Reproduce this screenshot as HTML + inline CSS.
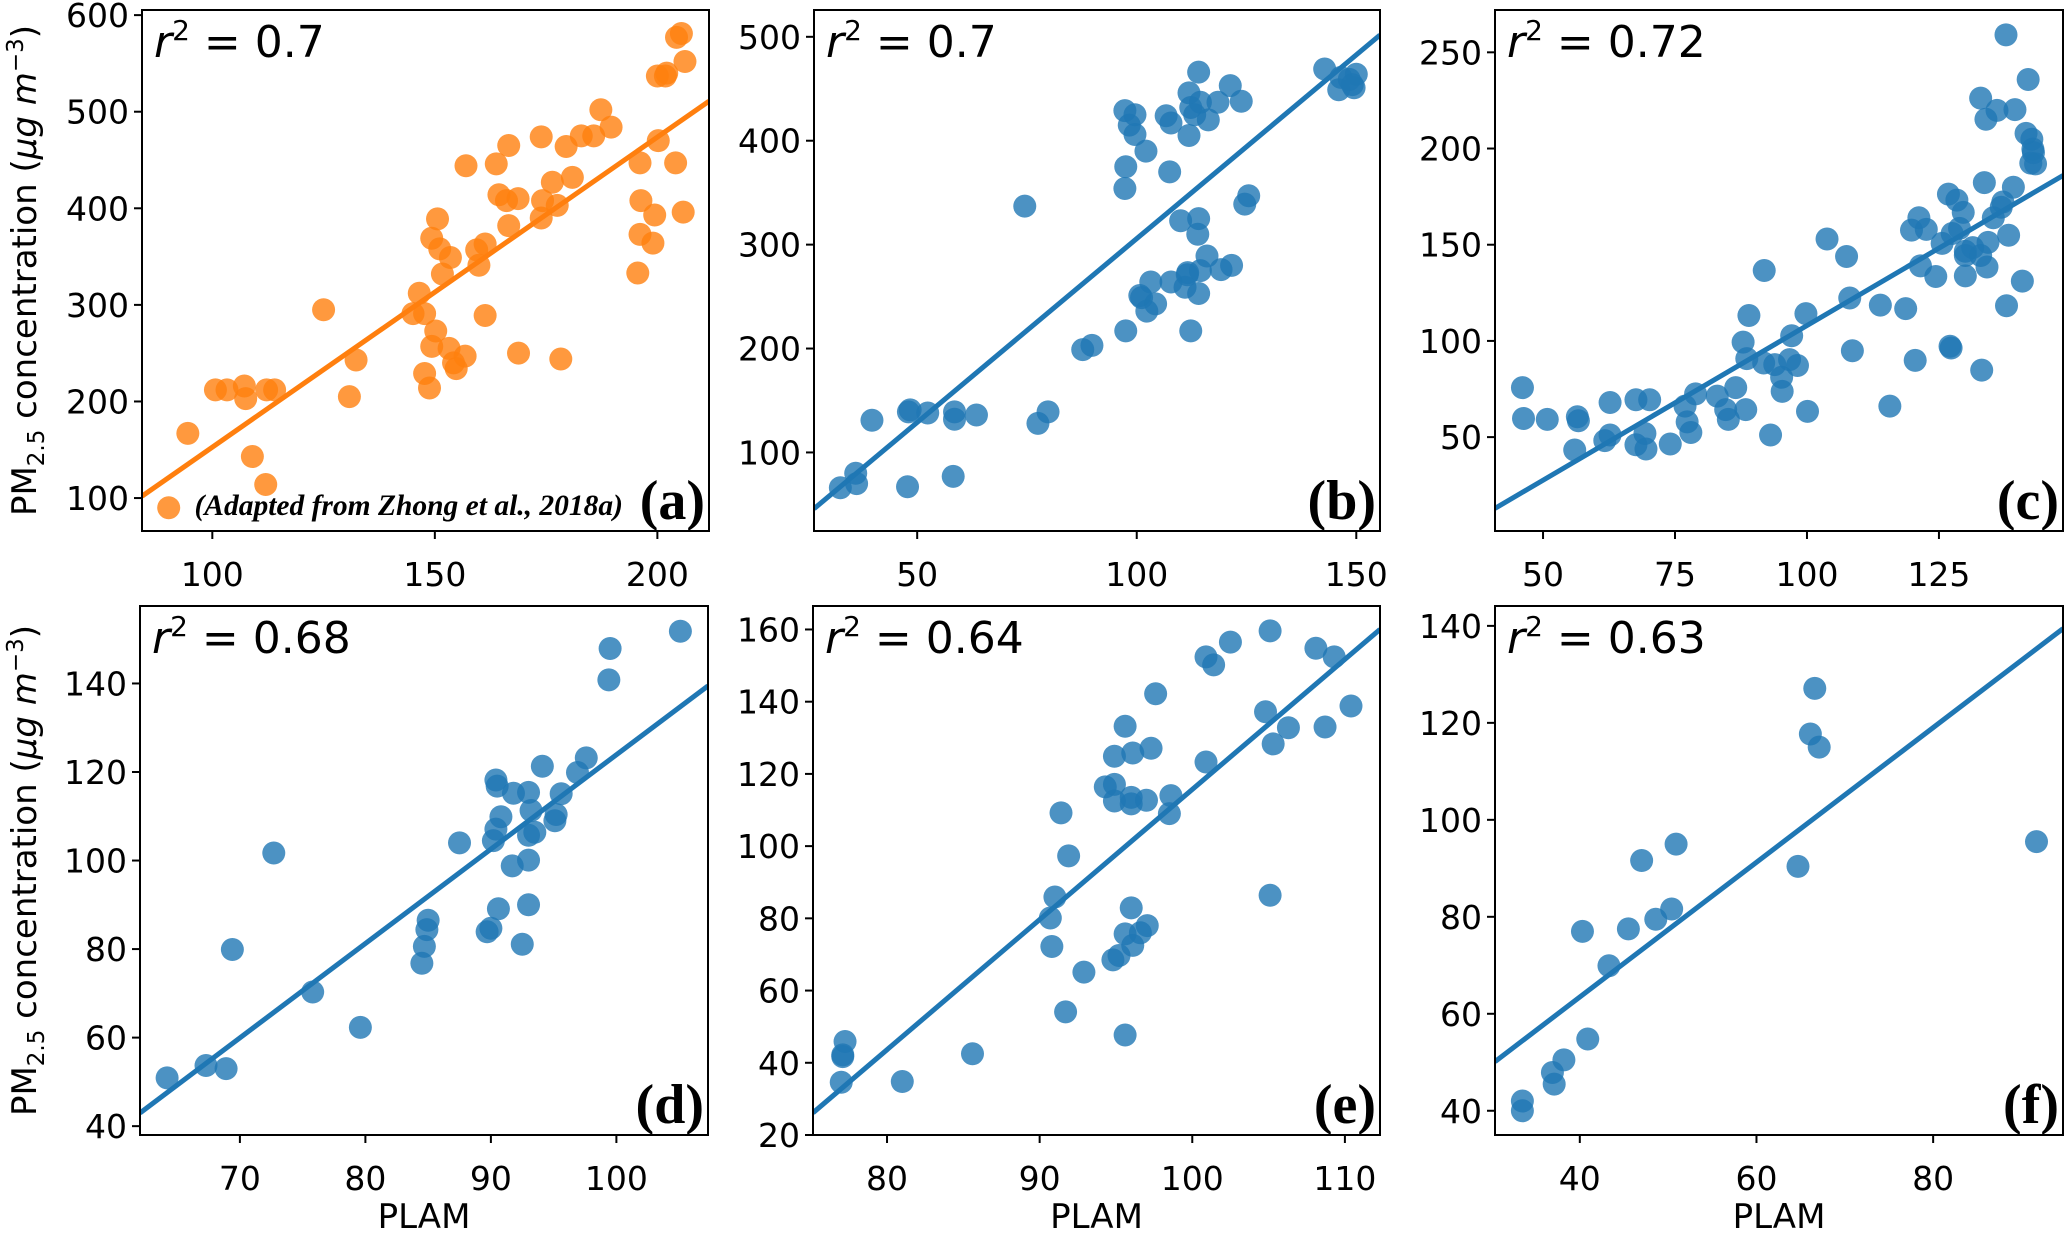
<!DOCTYPE html>
<html><head><meta charset="utf-8"><style>
html,body{margin:0;padding:0;background:#fff;}
svg{display:block;}
</style></head><body>
<svg id="fig" xmlns="http://www.w3.org/2000/svg" width="2067" height="1235" viewBox="0 0 2067 1235" font-family="'DejaVu Sans','Liberation Sans',sans-serif"></svg>
<script>
// ---- Panel (a) data ----
const aX=[90.2,94.5,100.7,103.3,107.2,107.5,109,112,112.2,114,125,130.8,132.3,145.1,146.5,147.7,147.7,148.8,150.2,149.3,149.3,150.6,151.1,151.7,153.5,153.2,154.2,154.8,156.8,157,159.4,159.9,161.3,161.3,163.8,164.4,166.1,166.6,166.6,168.7,168.8,173.9,173.9,174.2,176.4,177.5,178.3,179.5,180.9,182.9,185.7,187.3,189.6,195.6,196.1,196.1,196.3,199,199.4,200,200.2,201.8,202.1,204.1,204.3,205.4,206.2,205.8];
const aY=[90,167,212,212,216,203,143,114,212,212,295,205,243,291,312,291,229,214,273,257,369,389,358,332,349,255,240,234,247,444,357,341,363,289,446,414,408,382,465,410,250,474,390,408,427,403,244,464,432,475,475,502,484,333,447,373,408,364,393,537,470,537,540,447,577,581,552,396];
const aFit=[3.21,-168.3];
const aXTicks=[100,150,200];
const aYTicks=[100,200,300,400,500,600];
// ---- Panel (b) data ----
const bX=[32.5,36,36.2,39.7,47.8,48,48.4,52.4,58.5,58.5,58.2,63.5,74.5,77.5,79.8,87.7,89.8,97.3,97.5,97.3,97.5,98.3,99.6,99.6,100.7,101.1,102.1,102.3,103.2,104.3,106.7,107.5,107.8,107.8,110,111,111.5,111.6,111.9,111.9,112.3,112.3,113.2,114.1,114.1,113.9,114.1,114.5,114.5,116.3,116,118.5,119.2,121.3,121.6,123.8,124.6,125.5,142.8,146,146.5,149.1,150,149.5,148.4];
const bY=[66,80,70,131,67,139,141,138,139,132,77,136,337,128,139,199,203,429,375,354,217,415,425,406,251,249,390,236,264,243,424,370,417,264,323,259,271,273,446,405,217,432,425,466,325,310,253,275,437,420,289,437,276,453,280,438,339,347,469,449,461,454,464,451,459];
const bFit=[3.537,-47.9];
const bXTicks=[50,100,150];
const bYTicks=[100,200,300,400,500];
// ---- Panel (c) data ----
const cX=[46.1,46.3,50.8,56.5,56.7,56,61.7,62.7,62.7,67.6,70.2,67.6,69.3,69.5,74.1,76.9,77.3,78,78.9,83,84.6,85.1,86.5,88.4,87.9,89,88.6,91.8,91.9,93.1,93.9,95.2,95.3,96.7,97.1,98.2,99.8,100.1,103.8,107.5,108.1,108.6,113.9,115.7,118.7,119.8,120.5,121.2,121.5,122.6,124.4,125.6,126.8,127.5,127.1,127.3,128.4,128.9,129.6,130,130,130,131.4,132.9,133.1,133.6,132.9,133.9,134.1,134.3,135.3,136,136.8,137.1,137.7,137.8,138.2,139.1,139.4,140.8,141.5,141.9,142.6,142.8,142.4,143.3,142.9];
const cY=[75.7,59.7,59.2,60.6,58.5,43.3,48.2,68,51.1,69.4,69.4,46,51.9,43.8,46.4,66.1,57.9,52.4,72.5,71.3,64.3,59.2,75.7,64.3,99.4,113.2,90.8,88.5,136.6,51.1,87.7,81.1,73.8,90.3,102.7,87.2,114.2,63.4,153,143.9,122.3,94.9,118.6,66.1,116.8,157.6,89.9,164,139,158,133.5,150.7,176.3,155.8,97.2,96.3,173.2,158.5,166.8,146.6,133.8,144.4,148.5,226.2,84.8,182.3,144.4,215.2,138.4,151.2,164,219.8,169.5,172.2,259.1,118.3,154.9,179.9,220.2,131.1,207.9,235.9,204.8,199.7,192.4,192,197.9];
const cFit=[1.608,-52.8];
const cXTicks=[50,75,100,125];
const cYTicks=[50,100,150,200,250];
// ---- Panel (d) data ----
const dX=[64.2,67.3,68.9,69.4,72.7,75.8,79.6,84.5,84.7,84.9,85,87.5,89.7,90,90.2,90.4,90.4,90.5,90.8,90.6,91.7,91.8,92.5,93,93,93,93,93.2,93.5,94.1,95.1,95.2,95.6,96.9,97.6,99.4,99.5,105.1];
const dY=[50.9,53.7,53,79.9,101.7,70.3,62.3,76.8,80.6,84.4,86.5,104,83.9,84.7,104.5,107.1,118.2,116.8,109.9,89.1,98.8,115.2,81.1,115.4,100.1,90,105.7,111.3,106.4,121.3,109,110.4,115.1,119.9,123.2,140.8,147.9,151.8];
const dFit=[2.132,-89.3];
const dXTicks=[70,80,90,100];
const dYTicks=[40,60,80,100,120,140];
// ---- Panel (e) data ----
const eX=[77.25,77.1,77.1,77,81,85.6,91.4,91.9,91,90.7,90.8,91.7,92.9,94.3,94.9,94.9,94.9,94.8,95.2,95.6,95.6,96,96,96.1,96,95.6,96.1,96.6,97.05,97,97.3,97.6,98.5,98.6,100.9,101.4,100.9,102.5,104.8,105.1,105.3,105.1,106.3,108.1,109.3,108.7,110.4];
const eY=[45.9,42.2,41.7,34.6,34.8,42.5,109.2,97.3,85.9,80.1,72.2,54.1,65.1,116.4,117.1,124.9,112.5,68.5,69.7,133.2,47.7,113.5,111.7,125.8,82.9,75.7,72.5,76,78,112.7,127.1,142.2,109,114,152.4,150.2,123.3,156.5,137.2,159.6,128.3,86.4,132.8,154.8,152.4,133,138.8];
const eFit=[3.604,-244.7];
const eXTicks=[80,90,100,110];
const eYTicks=[20,40,60,80,100,120,140,160];
// ---- Panel (f) data ----
const fX=[33.5,33.5,36.9,37.1,38.2,40.9,40.3,43.3,45.5,47,48.6,50.4,50.9,64.7,66.1,67.1,66.6,91.7];
const fY=[42,40,47.9,45.5,50.5,54.8,77,69.9,77.5,91.6,79.5,81.6,95,90.4,117.7,115,127.1,95.5];
const fFit=[1.389,7.9];
const fXTicks=[40,60,80];
const fYTicks=[40,60,80,100,120,140];

const NS='http://www.w3.org/2000/svg';
const svg=document.getElementById('fig');
function mk(tag,attrs,parent){const e=document.createElementNS(NS,tag);for(const k in attrs)e.setAttribute(k,attrs[k]);(parent||svg).appendChild(e);return e;}

const panels=[
 {id:'a',x:aX,y:aY,fit:aFit,xt:aXTicks,yt:aYTicks,xl:[84.2,211.6],yl:[65.9,605.3],L:142,R:709,T:10,B:531,col:'#ff7f0e',r2:'0.7',lab:'(a)',note:true,ylab:true,xlab:false},
 {id:'b',x:bX,y:bY,fit:bFit,xt:bXTicks,yt:bYTicks,xl:[26.5,155.4],yl:[24.4,525.8],L:814,R:1380,T:10,B:531,col:'#1f77b4',r2:'0.7',lab:'(b)'},
 {id:'c',x:cX,y:cY,fit:cFit,xt:cXTicks,yt:cYTicks,xl:[40.9,148.5],yl:[1.2,272],L:1495,R:2063,T:10,B:531,col:'#1f77b4',r2:'0.72',lab:'(c)'},
 {id:'d',x:dX,y:dY,fit:dFit,xt:dXTicks,yt:dYTicks,xl:[62.04,107.3],yl:[38,157.5],L:140,R:708,T:606,B:1135,col:'#1f77b4',r2:'0.68',lab:'(d)',ylab:true,xlab:true},
 {id:'e',x:eX,y:eY,fit:eFit,xt:eXTicks,yt:eYTicks,xl:[75.15,112.3],yl:[20,166.5],L:813,R:1380,T:606,B:1135,col:'#1f77b4',r2:'0.64',lab:'(e)',xlab:true},
 {id:'f',x:fX,y:fY,fit:fFit,xt:fXTicks,yt:fYTicks,xl:[30.4,94.7],yl:[35,144.1],L:1495,R:2063,T:606,B:1135,col:'#1f77b4',r2:'0.63',lab:'(f)',xlab:true}
];

panels.forEach(p=>{
  const g=mk('g',{});
  
  
  const sx=v=>p.L+(v-p.xl[0])/(p.xl[1]-p.xl[0])*(p.R-p.L);
  const sy=v=>p.B-(v-p.yl[0])/(p.yl[1]-p.yl[0])*(p.B-p.T);
  const cid='clip'+p.id;
  const cp=mk('clipPath',{id:cid},g);
  mk('rect',{x:p.L,y:p.T,width:p.R-p.L,height:p.B-p.T},cp);
  const pg=mk('g',{'clip-path':'url(#'+cid+')'},g);
  
  
  for(let i=0;i<p.x.length;i++){
    const c=mk('circle',{cx:sx(p.x[i]),cy:sy(p.y[i]),r:11.5,fill:p.col,'fill-opacity':0.8},pg);
    
    
  }
  const x0=p.xl[0],x1=p.xl[1];
  const ln=mk('line',{x1:sx(x0),y1:sy(p.fit[0]*x0+p.fit[1]),x2:sx(x1),y2:sy(p.fit[0]*x1+p.fit[1]),stroke:p.col,'stroke-width':5,'clip-path':'url(#'+cid+')'},g);
  
  
  const fr=mk('rect',{x:p.L,y:p.T,width:p.R-p.L,height:p.B-p.T,fill:'none',stroke:'#000','stroke-width':2},g);
  
  
  p.xt.forEach(v=>{
    const X=sx(v);
    mk('line',{x1:X,y1:p.B,x2:X,y2:p.B+8,stroke:'#000','stroke-width':2},g);
    const t=mk('text',{x:X,y:p.B+55,'font-size':33,'text-anchor':'middle',fill:'#000'},g);
    t.textContent=v;
    
    
  });
  p.yt.forEach(v=>{
    const Y=sy(v);
    mk('line',{x1:p.L-8,y1:Y,x2:p.L,y2:Y,stroke:'#000','stroke-width':2},g);
    const t=mk('text',{x:p.L-13,y:Y+12,'font-size':33,'text-anchor':'end',fill:'#000'},g);
    t.textContent=v;
    
    
  });
  const r=mk('text',{x:p.L+12,y:p.T+47,'font-size':44,fill:'#000'},g);
  r.innerHTML='<tspan font-style="italic">r</tspan><tspan font-size="28" dy="-17">2</tspan><tspan dy="17"> = '+p.r2+'</tspan>';
  
  
  const pl=mk('text',{x:p.R-4,y:p.B-12,'font-size':56,'font-weight':'bold','font-family':"'Liberation Serif',serif",'text-anchor':'end',fill:'#000'},g);
  pl.textContent=p.lab;
  
  
  if(p.note){
    const n=mk('text',{x:p.R-86,y:p.B-16,'font-size':29.5,'font-weight':'bold','font-style':'italic','font-family':"'Liberation Serif',serif",'text-anchor':'end',fill:'#000'},g);
    n.textContent='(Adapted from Zhong et al., 2018a)';
    
    
  }
  if(p.ylab){
    const cy=(p.T+p.B)/2;
    const yl=mk('text',{x:0,y:0,'font-size':34,'text-anchor':'middle',fill:'#000',transform:'translate(36,'+cy+') rotate(-90)'},g);
    yl.innerHTML='PM<tspan font-size="23" dy="8">2.5</tspan><tspan dy="-8"> concentration (</tspan><tspan font-style="italic">μg m</tspan><tspan font-size="23" dy="-13">−3</tspan><tspan dy="13">)</tspan>';
    
    
  }
  if(p.xlab){
    const xl=mk('text',{x:(p.L+p.R)/2,y:1228,'font-size':34,'text-anchor':'middle',fill:'#000'},g);
    xl.textContent='PLAM';
    
    
  }
});
</script>
</body></html>
